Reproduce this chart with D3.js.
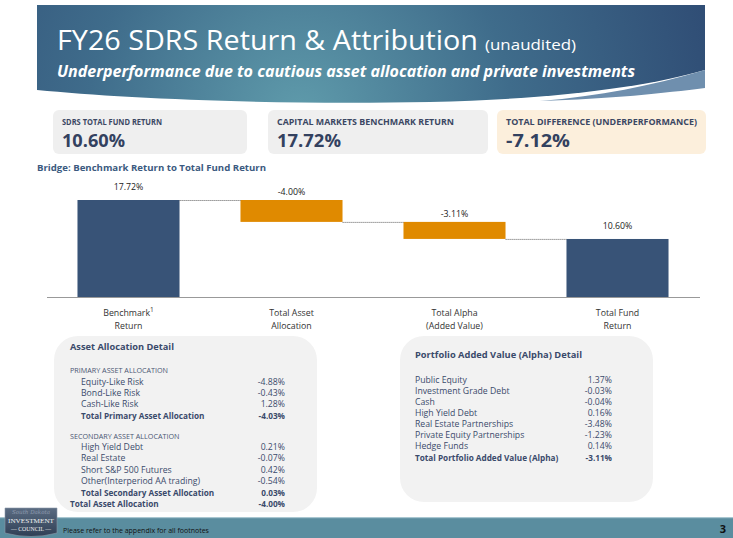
<!DOCTYPE html>
<html lang="en">
<head>
    <meta charset="UTF-8">
    <title>FY26 SDRS Return & Attribution</title>
    <style>
        body { margin: 0; padding: 0; background: #fff; }
        svg { display: block; font-family: "Open Sans", "Noto Sans", sans-serif; }
    </style>
</head>
<body>
    <svg id="slide" width="733" height="538"></svg>

    <script src="https://d3js.org/d3.v7.min.js"></script>
    <script>
        // bridge data
        const bridgeCats = [["Benchmark", "Return"], ["Total Asset", "Allocation"], ["Total Alpha", "(Added Value)"], ["Total Fund", "Return"]];
        const bridgeValues = [17.72, -4.00, -3.11, 10.60];
        const bridgeTypes = ["total", "delta", "delta", "total"];

        // headline boxes
        const kpiLabels = ["SDRS TOTAL FUND RETURN", "CAPITAL MARKETS BENCHMARK RETURN", "TOTAL DIFFERENCE (UNDERPERFORMANCE)"];
        const kpiValues = [10.60, 17.72, -7.12];

        // asset allocation detail
        const primaryLabels = ["Equity-Like Risk", "Bond-Like Risk", "Cash-Like Risk"];
        const primaryValues = [-4.88, -0.43, 1.28];
        const totalPrimary = -4.03;
        const secondaryLabels = ["High Yield Debt", "Real Estate", "Short S&P 500 Futures", "Other(Interperiod AA trading)"];
        const secondaryValues = [0.21, -0.07, 0.42, -0.54];
        const totalSecondary = 0.03;
        const totalAllocation = -4.00;

        // alpha detail
        const alphaLabels = ["Public Equity", "Investment Grade Debt", "Cash", "High Yield Debt", "Real Estate Partnerships", "Private Equity Partnerships", "Hedge Funds"];
        const alphaValues = [1.37, -0.03, -0.04, 0.16, -3.48, -1.23, 0.14];
        const totalAlpha = -3.11;

        // plain hyphen minus, like the slide
        const pct = v => v.toFixed(2) + "%";
        const ink = "#3a4a6b";
        const rowSize = 8.7, rowBold = 8.2;

        const svg = d3.select("#slide");
        const defs = svg.append("defs");

        // little text helper
        function txt(g, x, y, s, o = {}) {
            const t = g.append("text")
                .attr("x", x).attr("y", y)
                .attr("font-size", o.size || 8)
                .attr("font-weight", o.bold ? "bold" : null)
                .attr("font-style", o.italic ? "italic" : null)
                .attr("fill", o.fill || ink)
                .attr("text-anchor", o.anchor || "start")
                .text(s);
            if (o.len) t.attr("textLength", o.len).attr("lengthAdjust", "spacingAndGlyphs");
            return t;
        }

        // ---- header banner ----
        const hg = defs.append("radialGradient").attr("id", "hdr")
            .attr("gradientUnits", "userSpaceOnUse")
            .attr("cx", 300).attr("cy", 115).attr("r", 470);
        hg.append("stop").attr("offset", 0).attr("stop-color", "#5f9bab");
        hg.append("stop").attr("offset", 0.45).attr("stop-color", "#3f6c8b");
        hg.append("stop").attr("offset", 1).attr("stop-color", "#2c4670");

        svg.append("path")
            .attr("d", "M37,5 H705 V70 C650,86 560,99 430,102 C260,105 120,98 37,90 Z")
            .attr("fill", "url(#hdr)");
        svg.append("path")
            .attr("d", "M705,70 C650,86 600,96 540,101 C610,99 665,93 705,88 Z")
            .attr("fill", "#6f8fae");

        txt(svg, 57, 50, "FY26 SDRS Return & Attribution", { size: 27, fill: "#fff", len: 421 });
        txt(svg, 485, 50, "(unaudited)", { size: 14, fill: "#fff", len: 91 });
        txt(svg, 57, 77, "Underperformance due to cautious asset allocation and private investments",
            { size: 16, bold: true, italic: true, fill: "#fff", len: 578 });

        // ---- KPI boxes ----
        const kpiX = [53, 268, 497];
        const kpiW = [194, 220, 209];
        const kpiLen = [100, 177, 191];
        const kpiValLen = [63, 64, 64];
        kpiLabels.forEach((lab, i) => {
            svg.append("rect")
                .attr("x", kpiX[i]).attr("y", 110).attr("width", kpiW[i]).attr("height", 44)
                .attr("rx", 6).attr("fill", i === 2 ? "#fcefdc" : "#efefef");
            txt(svg, kpiX[i] + 9, 125, lab, { size: 8.5, bold: true, fill: "#3b4763", len: kpiLen[i] });
            txt(svg, kpiX[i] + 9, 147, pct(kpiValues[i]), { size: 18, bold: true, fill: "#33415f", len: kpiValLen[i] });
        });

        txt(svg, 37, 171, "Bridge: Benchmark Return to Total Fund Return", { size: 9, bold: true, fill: "#3b5a80", len: 229 });

        // ---- waterfall bridge ----
        const x = d3.scaleBand()
            .domain(d3.range(bridgeValues.length))
            .range([47, 699])
            .paddingInner(0.374)
            .paddingOuter(0.187);
        const y = d3.scaleLinear().domain([0, bridgeValues[0]]).range([297, 200]);

        let run = 0;
        const steps = bridgeValues.map((v, i) => {
            let s, e;
            if (bridgeTypes[i] === "total") { s = 0; e = v; run = v; }
            else { s = run; e = run + v; run = e; }
            return { i, v, s, e, type: bridgeTypes[i] };
        });

        const chart = svg.append("g");

        chart.selectAll("rect.bar")
            .data(steps)
            .join("rect")
            .attr("class", "bar")
            .attr("x", d => x(d.i))
            .attr("width", x.bandwidth())
            .attr("y", d => y(Math.max(d.s, d.e)))
            .attr("height", d => Math.abs(y(d.s) - y(d.e)))
            .attr("fill", d => d.type === "total" ? "#385377" : "#e08a00");

        // dotted connectors
        chart.selectAll("line.conn")
            .data(steps.slice(0, -1))
            .join("line")
            .attr("class", "conn")
            .attr("x1", d => x(d.i) + x.bandwidth())
            .attr("x2", d => x(d.i + 1))
            .attr("y1", d => y(d.e) + 0.5)
            .attr("y2", d => y(d.e) + 0.5)
            .attr("stroke", "#555")
            .attr("stroke-width", 0.8)
            .attr("stroke-dasharray", "1.2,0.8");

        // value labels
        chart.selectAll("text.val")
            .data(steps)
            .join("text")
            .attr("class", "val")
            .attr("x", d => x(d.i) + x.bandwidth() / 2)
            .attr("y", d => y(Math.max(d.s, d.e)) - (d.type === "total" ? 10 : 5))
            .attr("text-anchor", "middle")
            .attr("font-size", 8.8)
            .attr("fill", "#222")
            .text(d => pct(d.v));

        // baseline axis
        const xAxis = chart.append("g")
            .attr("transform", "translate(0,297)")
            .call(d3.axisBottom(x).tickSize(0).tickFormat(""));
        xAxis.select(".domain").attr("stroke", "#999").attr("d", "M47,0.5H700");

        const catG = chart.selectAll("g.cat")
            .data(bridgeCats)
            .join("g")
            .attr("class", "cat")
            .attr("transform", (d, i) => `translate(${x(i) + x.bandwidth() / 2},0)`);
        catG.append("text")
            .attr("y", 316).attr("text-anchor", "middle")
            .attr("font-size", 8.8).attr("fill", "#333")
            .text(d => d[0])
            .filter((d, i) => i === 0)
            .append("tspan").attr("dy", -4).attr("font-size", 6.5).text("1");
        catG.append("text")
            .attr("y", 329).attr("text-anchor", "middle")
            .attr("font-size", 8.8).attr("fill", "#333")
            .text(d => d[1]);

        // ---- detail panels ----
        svg.append("rect").attr("x", 54).attr("y", 336).attr("width", 263).attr("height", 176)
            .attr("rx", 24).attr("fill", "#f2f2f2");
        svg.append("rect").attr("x", 400).attr("y", 336).attr("width", 253).attr("height", 166)
            .attr("rx", 24).attr("fill", "#f2f2f2");

        const lp = svg.append("g");
        const valX = 285;
        txt(lp, 70, 350, "Asset Allocation Detail", { size: 9.5, bold: true, len: 104 });

        txt(lp, 70, 373, "PRIMARY ASSET ALLOCATION", { size: 7.2, fill: "#4b5672" });
        primaryLabels.forEach((lab, i) => {
            const yy = 384.5 + i * 11.4;
            txt(lp, 81, yy, lab, { size: rowSize });
            txt(lp, valX, yy, pct(primaryValues[i]), { size: rowSize, anchor: "end" });
        });
        txt(lp, 81, 418.5, "Total Primary Asset Allocation", { size: rowBold, bold: true });
        txt(lp, valX, 418.5, pct(totalPrimary), { size: rowBold, bold: true, anchor: "end" });

        txt(lp, 70, 438.5, "SECONDARY ASSET ALLOCATION", { size: 7.2, fill: "#4b5672" });
        secondaryLabels.forEach((lab, i) => {
            const yy = 450 + i * 11.4;
            txt(lp, 81, yy, lab, { size: rowSize });
            txt(lp, valX, yy, pct(secondaryValues[i]), { size: rowSize, anchor: "end" });
        });
        txt(lp, 81, 496, "Total Secondary Asset Allocation", { size: rowBold, bold: true });
        txt(lp, valX, 496, pct(totalSecondary), { size: rowBold, bold: true, anchor: "end" });
        txt(lp, 70, 507, "Total Asset Allocation", { size: rowBold, bold: true });
        txt(lp, valX, 507, pct(totalAllocation), { size: rowBold, bold: true, anchor: "end" });

        const rp = svg.append("g");
        txt(rp, 415, 358, "Portfolio Added Value (Alpha) Detail", { size: 9.5, bold: true, len: 167 });
        alphaLabels.forEach((lab, i) => {
            const yy = 382.5 + i * 11.1;
            txt(rp, 415, yy, lab, { size: rowSize });
            txt(rp, 612, yy, pct(alphaValues[i]), { size: rowSize, anchor: "end" });
        });
        txt(rp, 415, 460.5, "Total Portfolio Added Value (Alpha)", { size: rowBold, bold: true });
        txt(rp, 612, 460.5, pct(totalAlpha), { size: rowBold, bold: true, anchor: "end" });

        // ---- footer ----
        svg.append("rect").attr("x", 0).attr("y", 518).attr("width", 733).attr("height", 20).attr("fill", "#5a8d9f");
        svg.append("rect").attr("x", 0).attr("y", 517).attr("width", 733).attr("height", 1.2).attr("fill", "#a9c7d1");
        txt(svg, 63, 533, "Please refer to the appendix for all footnotes", { size: 7, fill: "#111" });
        txt(svg, 726, 533, "3", { size: 11, bold: true, fill: "#111", anchor: "end" });

        // logo badge
        const lg = defs.append("linearGradient").attr("id", "logo").attr("x1", 0).attr("y1", 0).attr("x2", 0).attr("y2", 1);
        lg.append("stop").attr("offset", 0).attr("stop-color", "#5b6c82");
        lg.append("stop").attr("offset", 1).attr("stop-color", "#2f3f55");
        svg.append("path").attr("d", "M5,508 H57 V533 Q31,540 5,533 Z")
            .attr("fill", "url(#logo)").attr("stroke", "#8b98a8").attr("stroke-width", 0.6);
        txt(svg, 31, 514, "South Dakota", { size: 5.5, italic: true, fill: "#8f9bb0", anchor: "middle" })
            .attr("font-family", "DejaVu Serif");
        txt(svg, 31, 523, "INVESTMENT", { size: 6.5, fill: "#f2f2f2", anchor: "middle", len: 46 })
            .attr("font-family", "Liberation Serif");
        txt(svg, 31, 531, "— COUNCIL —", { size: 5.5, fill: "#f2f2f2", anchor: "middle", len: 40 })
            .attr("font-family", "Liberation Serif");
    </script>
</body>
</html>
